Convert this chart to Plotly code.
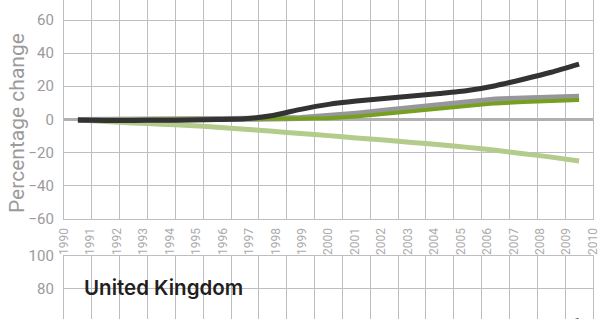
import plotly.graph_objects as go

# ---- data ----
categories = [str(y) for y in range(1991, 2010)]
year_labels = list(range(1990, 2011))

series_dark = [-0.5, -0.7, -0.7, -0.6, -0.5, -0.2, 0.3, 2.3, 6.0, 9.0, 11.0, 12.5, 14.0, 15.6, 17.4, 20.3, 24.2, 28.4, 33.3]
series_grey = [-0.5, -0.5, -0.4, -0.3, -0.2, 0.0, 0.2, 0.4, 0.7, 1.6, 3.4, 5.1, 6.8, 8.5, 10.2, 12.0, 12.6, 13.1, 13.6]
series_green = [-0.5, -0.5, -0.4, -0.3, -0.2, -0.1, 0.1, 0.3, 0.4, 0.6, 1.7, 3.2, 4.7, 6.2, 7.7, 9.6, 10.4, 11.0, 11.6]
series_light = [-0.5, -1.3, -2.2, -3.0, -3.8, -4.8, -6.0, -7.3, -8.6, -9.9, -11.3, -12.6, -14.0, -15.4, -17.0, -18.8, -20.8, -22.9, -25.2]

uk_dark = [0, 1, 2, 3, 5, 7, 9, 12, 16, 20, 24, 28, 32, 36, 40, 45, 50, 56, 61]

y_ticks_top = [-60, -40, -20, 0, 20, 40, 60]
y_ticks_bottom = [60, 80, 100]

# ---- styles ----
C_DARK = "#333333"
C_GREY = "#97979b"
C_GREEN = "#76a01e"
C_LIGHT = "#b3cc8c"
GRID = "#bdbdc3"
TICKC = "#9b9b9b"

W, H = 600, 319
L_PX, R_PX = 64, 593
dom_x = [L_PX / W, R_PX / W]

fig = go.Figure()

def add(x, y, color, width, xa, ya, shape="linear"):
    fig.add_trace(go.Scatter(x=x, y=y, mode="lines", xaxis=xa, yaxis=ya,
                             line=dict(color=color, width=width, shape=shape, smoothing=0.6),
                             hoverinfo="skip", showlegend=False))

add(categories, series_light, C_LIGHT, 5, "x", "y", "spline")
add(categories, series_grey, C_GREY, 6, "x", "y")
add(categories, series_green, C_GREEN, 4, "x", "y")
add(categories, series_dark, C_DARK, 5, "x", "y", "spline")
add(categories, uk_dark, C_DARK, 5, "x2", "y2")
# carrier for the year-label axis
fig.add_trace(go.Scatter(x=[year_labels[0], year_labels[-1]], y=[90, 90], mode="markers",
                         marker=dict(opacity=0), xaxis="x3", yaxis="y2",
                         hoverinfo="skip", showlegend=False))

tickfont = dict(family="Roboto", size=15, color=TICKC)

cat_axis = dict(type="category", domain=dom_x, range=[-0.5, len(categories) - 0.5],
                categoryorder="array", categoryarray=categories,
                tickson="boundaries", showgrid=True, gridcolor=GRID, gridwidth=1.3,
                showticklabels=False, ticks="", zeroline=False,
                linecolor=GRID, linewidth=1.3, automargin=False)

y_common = dict(showgrid=True, gridcolor=GRID, gridwidth=1.3, tickfont=tickfont,
                ticks="", ticklabelstandoff=6, showline=True, mirror=True,
                linecolor=GRID, linewidth=1.3, automargin=False)

fig.update_layout(
    width=W, height=H,
    margin=dict(l=0, r=0, t=0, b=0, autoexpand=False),
    paper_bgcolor="white", plot_bgcolor="white",
    template="none",
    xaxis=dict(anchor="y", showline=True, side="bottom", **cat_axis),
    xaxis2=dict(anchor="y2", showline=True, side="top", **cat_axis),
    xaxis3=dict(anchor="y2", overlaying="x2", side="top", domain=dom_x,
                range=[year_labels[0], year_labels[-1]], tickvals=year_labels,
                ticktext=[str(v) for v in year_labels], tickangle=-90,
                tickfont=dict(family="Roboto", size=12, color="#ababab"),
                showgrid=False, zeroline=False, showline=False, ticks="",
                automargin=False),
    yaxis=dict(anchor="x", domain=[(H - 218.5) / H, 1], range=[-60, 72.1],
               tickvals=y_ticks_top, zeroline=True, zerolinecolor="#b0b0b0",
               zerolinewidth=3, **y_common),
    yaxis2=dict(anchor="x2", domain=[0, (H - 256) / H], range=[61.8, 100],
                tickvals=y_ticks_bottom, zeroline=False, **y_common),
)

fig.add_annotation(text="Percentage change", xref="paper", yref="paper",
                   x=17 / W, y=(H - 123) / H, textangle=-90, showarrow=False,
                   font=dict(family="Roboto", size=21, color="#9b9b9b"),
                   xanchor="center", yanchor="middle")

fig.add_annotation(text="United Kingdom", xref="paper", yref="paper",
                   x=82 / W, y=(H - 287) / H, showarrow=False,
                   font=dict(family="Inter", size=20.5, color="#231f20", weight=600),
                   xanchor="left", yanchor="middle",
                   bgcolor="rgba(0,0,0,0)")

fig.write_html("out.html", config={"displayModeBar": False},
               post_script="document.body.style.margin='0';")
